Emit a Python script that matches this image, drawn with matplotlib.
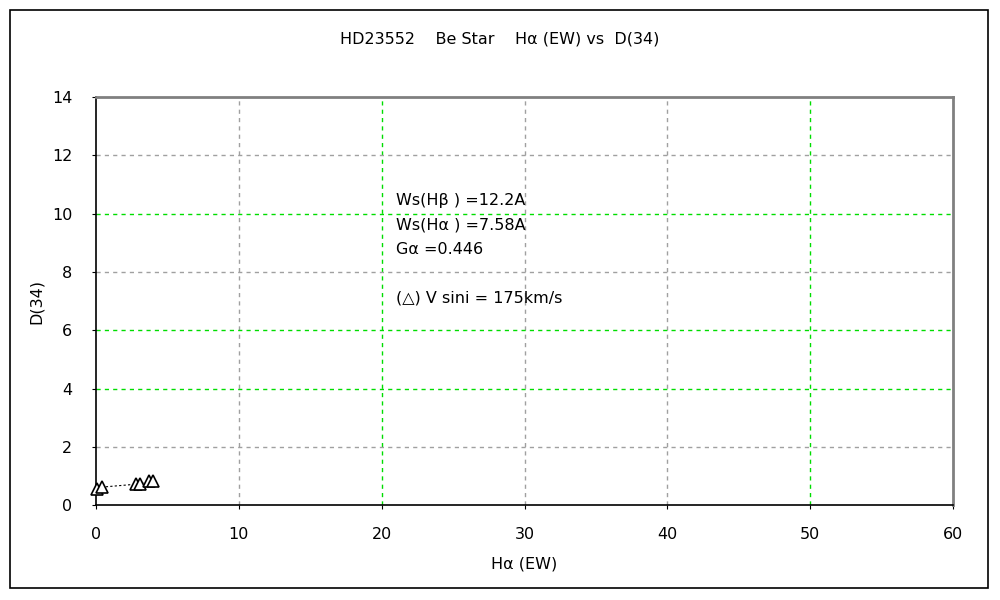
import numpy as np
import matplotlib.pyplot as plt
from matplotlib.patches import Rectangle

plt.rcParams['font.family'] = ['DejaVu Sans', 'Noto Sans CJK JP']

# H-alpha equivalent width vs Balmer jump D(34)
ha_ew = [0.1, 0.4, 2.8, 3.1, 3.7, 4.0]
d34 = [0.55, 0.62, 0.72, 0.74, 0.82, 0.84]

x_ticks = [0, 10, 20, 30, 40, 50, 60]
y_ticks = [0, 2, 4, 6, 8, 10, 12, 14]
green_x = [20, 50]
green_y = [4, 6, 10]

fig = plt.figure(figsize=(10, 6), dpi=100)
ax = fig.add_axes([0.096, 0.158, 0.857, 0.68])

# outer chart border
fig.patches.append(Rectangle((0.01, 0.02), 0.978, 0.963, transform=fig.transFigure,
                             fill=False, edgecolor='black', linewidth=1.2))

ax.set_xlim(0, 60)
ax.set_ylim(0, 14)
ax.set_xticks(x_ticks)
ax.set_yticks(y_ticks)

for x in x_ticks[1:-1]:
    c = '#00dd00' if x in green_x else '#a0a0a0'
    ax.axvline(x, color=c, linestyle=(0, (3, 3)), linewidth=1, zorder=0)
for y in y_ticks[1:-1]:
    c = '#00dd00' if y in green_y else '#a0a0a0'
    ax.axhline(y, color=c, linestyle=(0, (3, 3)), linewidth=1, zorder=0)

ax.plot(ha_ew, d34, linestyle=(0, (2, 2)), color='black', linewidth=0.8,
        marker='^', markersize=8, markerfacecolor='white', markeredgecolor='black',
        markeredgewidth=1.2, clip_on=False, zorder=3)

for s in ['top', 'right']:
    ax.spines[s].set_color('#808080')
    ax.spines[s].set_linewidth(2)
for s in ['left', 'bottom']:
    ax.spines[s].set_color('black')
    ax.spines[s].set_linewidth(1.2)

ax.tick_params(direction='out', length=3, labelsize=11.5)
ax.tick_params(axis='y', pad=14)
ax.tick_params(axis='x', pad=13)
ax.set_xlabel('H\u03b1 (EW)', fontsize=11.5, labelpad=10)
ax.set_ylabel('D(34)', fontsize=11.5, labelpad=6)

fig.text(0.5, 0.935, 'HD23552    Be Star    H\u03b1 (EW) vs  D(34)',
         ha='center', va='center', fontsize=11.5)

tx = 21.0
ax.text(tx, 10.47, 'Ws(H\u03b2 ) =12.2A', fontsize=11.5, va='center')
ax.text(tx, 9.6, 'Ws(H\u03b1 ) =7.58A', fontsize=11.5, va='center')
ax.text(tx, 8.78, 'G\u03b1 =0.446', fontsize=11.5, va='center')
ax.text(tx, 7.1, '(\u25b3) V sini = 175km/s', fontsize=11.5, va='center')

fig.savefig('out.png', dpi=100)
